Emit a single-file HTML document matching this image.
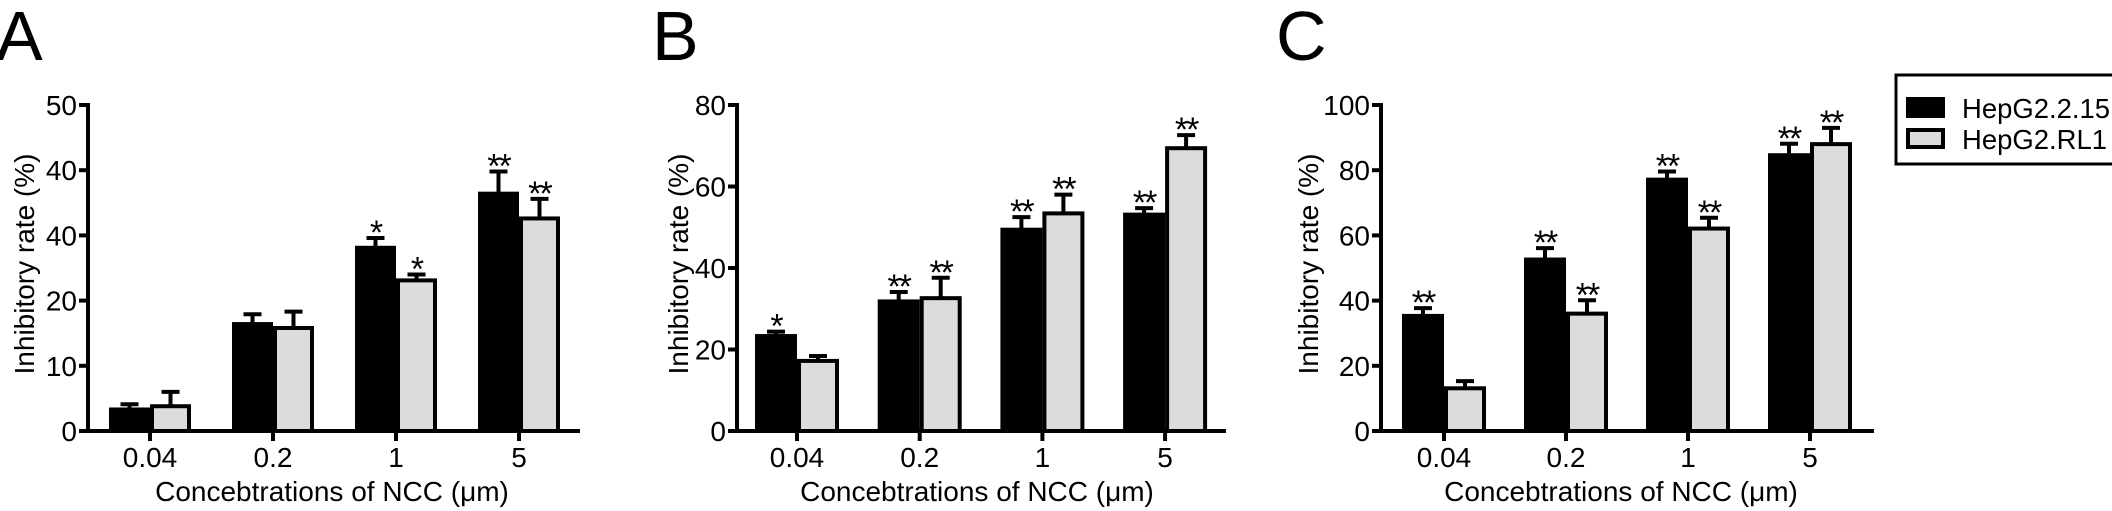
<!DOCTYPE html>
<html><head><meta charset="utf-8"><style>
html,body{margin:0;padding:0;background:#fff;}
svg{display:block;font-family:"Liberation Sans",sans-serif;}
</style></head><body>
<svg id="fig" width="2112" height="511" viewBox="0 0 2112 511"></svg>
<script>
const categories = ["0.04","0.2","1","5"];
const aTickLabels = ["0","10","20","40","40","50"];
const aTickValues = [0,10,20,30,40,50];
const aHep215 = [3.3,16.4,28.1,36.4];
const aHep215Err = [4.1,17.9,29.6,39.8];
const aRL1 = [3.8,15.8,23.1,32.6];
const aRL1Err = [6.0,18.3,24.0,35.6];
const aHep215Stars = ["","","*","**"];
const aRL1Stars = ["","","*","**"];

const bTickValues = [0,20,40,60,80];
const bHep215 = [23.3,31.8,49.4,53.1];
const bHep215Err = [24.4,34.1,52.5,54.7];
const bRL1 = [17.2,32.6,53.4,69.4];
const bRL1Err = [18.4,37.6,58.0,72.6];
const bHep215Stars = ["*","**","**","**"];
const bRL1Stars = ["","**","**","**"];

const cTickValues = [0,20,40,60,80,100];
const cHep215 = [35.3,52.6,77.1,84.6];
const cHep215Err = [37.7,56.1,79.6,88.1];
const cRL1 = [13.1,36.0,62.1,88.0];
const cRL1Err = [15.3,40.1,65.4,93.0];
const cHep215Stars = ["**","**","**","**"];
const cRL1Stars = ["","**","**","**"];

const NS="http://www.w3.org/2000/svg";
const svg=document.getElementById('fig');
function mk(tag,attrs,parent,text){const e=document.createElementNS(NS,tag);for(const k in attrs)e.setAttribute(k,attrs[k]);if(text!==undefined)e.textContent=text;(parent||svg).appendChild(e);return e;}

function panel(p){
  const g=mk('g',{});
  
  
  const y0=431,y1=105;
  const ys=v=>y0-(v/p.max)*(y0-y1);
  const L=mk('text',{x:p.letterX,y:60,'font-size':70},g,p.id);
  
  
  p.tickValues.forEach((v,i)=>{
    const t=mk('line',{x1:p.ax-9,x2:p.ax,y1:ys(v),y2:ys(v),stroke:'#000','stroke-width':4},g);
    
    
    const lbl=mk('text',{x:p.ax-11,y:ys(v)+10,'font-size':28,'text-anchor':'end'},g,p.tickLabels?p.tickLabels[i]:String(v));
    
    
  });
  const yt=mk('text',{x:0,y:0,'font-size':28,'text-anchor':'middle',transform:`translate(${p.ytX},264) rotate(-90)`},g,'Inhibitory rate (%)');
  
  
  const bw=p.bw;
  categories.forEach((c,i)=>{
    const cx=p.ax+p.first+i*p.step;
    const series=[[p.h,p.he,p.hs,'#000','hepg2-2-15',cx-bw],[p.r,p.re,p.rs,'#dcdcdc','hepg2-rl1',cx]];
    series.forEach(s=>{
      const val=s[0][i],err=s[1][i],x=s[5];
      const mid=x+bw/2;
      const el=mk('line',{x1:mid,x2:mid,y1:ys(val),y2:ys(err),stroke:'#000','stroke-width':4},g);
      
      
      const cap=mk('line',{x1:mid-9,x2:mid+9,y1:ys(err),y2:ys(err),stroke:'#000','stroke-width':4},g);
      
      
      const r=mk('rect',{x:x+2,y:ys(val),width:bw-4,height:Math.max(0,y0-ys(val)),fill:s[3],stroke:'#000','stroke-width':4},g);
      
      
      if(s[2][i]){
        const st=mk('text',{x:mid,y:ys(err)+6,'font-size':34,'text-anchor':'middle','letter-spacing':-2},g,s[2][i]);
        
        
      }
    });
    const xt=mk('line',{x1:cx,x2:cx,y1:y0,y2:y0+10,stroke:'#000','stroke-width':4},g);
    
    
    const xl=mk('text',{x:cx,y:467,'font-size':28,'text-anchor':'middle'},g,c);
    
    
  });
  const ya=mk('line',{x1:p.ax,x2:p.ax,y1:y1-2,y2:y0+2,stroke:'#000','stroke-width':4},g);
  
  
  const xa=mk('line',{x1:p.ax-2,x2:p.xEnd,y1:y0,y2:y0,stroke:'#000','stroke-width':4},g);
  
  
  const xtt=mk('text',{x:p.xtX,y:501,'font-size':28,'text-anchor':'middle'},g,'Concebtrations of NCC (\u03bcm)');
  
  
}
panel({id:'A',letterX:-4,ax:88,xEnd:580,first:62,step:123,bw:41,max:50,tickValues:aTickValues,tickLabels:aTickLabels,ytX:34,xtX:332,
  h:aHep215,he:aHep215Err,hs:aHep215Stars,r:aRL1,re:aRL1Err,rs:aRL1Stars});
panel({id:'B',letterX:652,ax:737,xEnd:1226,first:60,step:122.7,bw:42,max:80,tickValues:bTickValues,ytX:688,xtX:977,
  h:bHep215,he:bHep215Err,hs:bHep215Stars,r:bRL1,re:bRL1Err,rs:bRL1Stars});
panel({id:'C',letterX:1276,ax:1381,xEnd:1874,first:63,step:122,bw:42,max:100,tickValues:cTickValues,ytX:1318,xtX:1621,
  h:cHep215,he:cHep215Err,hs:cHep215Stars,r:cRL1,re:cRL1Err,rs:cRL1Stars});

const lg=mk('g',{});


const box=mk('rect',{x:1896,y:75,width:222,height:89,fill:'#fff',stroke:'#000','stroke-width':3},lg);


const s1=mk('rect',{x:1908,y:99,width:35,height:17,fill:'#000',stroke:'#000','stroke-width':4},lg);


const t1=mk('text',{x:1962,y:118,'font-size':28,textLength:148,lengthAdjust:'spacingAndGlyphs'},lg,'HepG2.2.15');


const s2=mk('rect',{x:1908,y:130,width:35,height:17,fill:'#dcdcdc',stroke:'#000','stroke-width':4},lg);


const t2=mk('text',{x:1962,y:149,'font-size':28,textLength:145,lengthAdjust:'spacingAndGlyphs'},lg,'HepG2.RL1');


</script>
</body></html>
